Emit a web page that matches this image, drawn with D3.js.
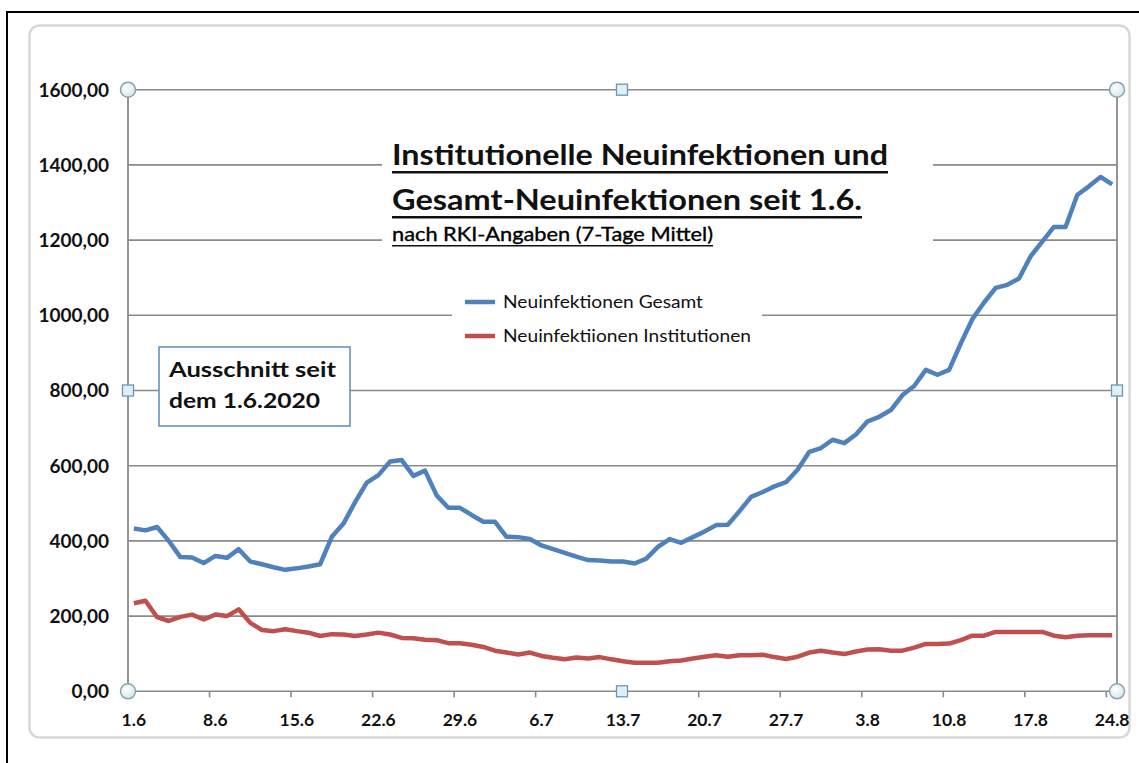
<!DOCTYPE html>
<html><head><meta charset="utf-8">
<script src="https://cdn.jsdelivr.net/npm/d3@7"></script>
<style>
html,body{margin:0;padding:0;background:#fff;}
svg{display:block;font-family:Lato,"Open Sans",sans-serif;}
</style></head>
<body>
<svg id="chart" width="1139" height="763"></svg>
<script>
// ---- data ----
const startDate = "2020-06-01", endDate = "2020-08-24";
const tickLabels = ["1.6","8.6","15.6","22.6","29.6","6.7","13.7","20.7","27.7","3.8","10.8","17.8","24.8"];
const yTicks = [0,200,400,600,800,1000,1200,1400,1600];
const seriesNames = ["Neuinfektionen Gesamt","Neuinfektiionen Institutionen"];
const gesamt = [433,428,437,400,357,356,341,360,355,378,345,338,330,323,327,332,338,411,446,503,555,575,611,615,573,587,521,488,488,469,451,451,411,410,405,388,378,368,358,349,348,345,345,340,353,384,405,395,410,425,442,443,479,517,530,545,556,590,637,647,669,660,683,718,730,748,788,812,855,842,855,925,990,1034,1073,1081,1098,1157,1196,1235,1235,1320,1343,1368,1348];
const institutionen = [234,241,197,187,198,204,191,204,200,218,182,163,160,165,160,156,147,152,151,147,151,156,151,142,141,137,136,128,128,124,118,108,103,98,103,94,89,85,90,87,91,85,80,76,76,76,80,82,87,92,96,92,96,96,97,91,86,92,103,108,103,99,106,111,112,108,108,116,126,126,127,136,148,148,158,158,158,158,158,148,144,148,149,149,149];

const parse = d3.timeParse("%Y-%m-%d");
const fmt = d3.timeFormat("%-d.%-m");
const categories = d3.timeDay.range(parse(startDate), d3.timeDay.offset(parse(endDate),1)).map(fmt);

const svg = d3.select("#chart");
const L = 128, R = 1118, T = 89.7, B = 691.3;
const x = d3.scaleBand().domain(categories).range([L, R]).padding(0);
const y = d3.scaleLinear().domain([0,1600]).range([B, T]);
const cx = c => x(c) + x.bandwidth()/2;

// outer frame
svg.append("line").attr("x1",7).attr("x2",7).attr("y1",12).attr("y2",763).attr("stroke","#000").attr("stroke-width",2);
svg.append("line").attr("x1",6).attr("x2",1139).attr("y1",12).attr("y2",12).attr("stroke","#000").attr("stroke-width",2);
// chart area
svg.append("rect").attr("x",29.5).attr("y",25.5).attr("width",1100).attr("height",712).attr("rx",10)
  .attr("fill","#fff").attr("stroke","#d8d8d8").attr("stroke-width",2.5);

// gridlines
svg.append("g").selectAll("line").data(yTicks).join("line")
  .attr("x1",L).attr("x2",R-1).attr("y1",d=>y(d)).attr("y2",d=>y(d))
  .attr("stroke","#8a8a8a").attr("stroke-width",1.6);

// y axis labels
svg.append("g").selectAll("text").data(yTicks).join("text")
  .attr("x",109).attr("y",d=>y(d)).attr("dy","0.36em").attr("text-anchor","end")
  .attr("font-weight","bold").attr("font-size",19).attr("fill","#111")
  .text(d=>d3.format(".2f")(d).replace(".",","));

// axes lines
svg.append("line").attr("x1",L).attr("x2",L).attr("y1",T).attr("y2",B).attr("stroke","#8a8a8a").attr("stroke-width",1.8);
svg.append("line").attr("x1",R-1).attr("x2",R-1).attr("y1",T).attr("y2",B).attr("stroke","#8a8a8a").attr("stroke-width",1.8);

// x ticks & labels
const tickCats = categories.filter(c => tickLabels.includes(c));
svg.append("g").selectAll("line").data(tickCats).join("line")
  .attr("x1",d=>x(d)).attr("x2",d=>x(d)).attr("y1",B).attr("y2",B+6)
  .attr("stroke","#8a8a8a").attr("stroke-width",1.6);
svg.append("g").selectAll("text").data(tickCats).join("text")
  .attr("x",d=>cx(d)).attr("y",726).attr("text-anchor","middle")
  .attr("font-weight","bold").attr("font-size",17.5).attr("fill","#111")
  .text(d=>d);

// title block (white background)
svg.append("rect").attr("x",382).attr("y",132).attr("width",551).attr("height",122).attr("fill","#fff");
svg.append("rect").attr("x",452).attr("y",282).attr("width",310).attr("height",70).attr("fill","#fff");
svg.append("text").attr("x",392).attr("y",165).attr("font-weight","bold").attr("font-size",28)
  .attr("fill","#111").attr("textLength",496).attr("lengthAdjust","spacingAndGlyphs").text("Institutionelle Neuinfektionen und");
svg.append("text").attr("x",392).attr("y",210).attr("font-weight","bold").attr("font-size",28)
  .attr("fill","#111").attr("textLength",470).attr("lengthAdjust","spacingAndGlyphs").text("Gesamt-Neuinfektionen seit 1.6.");
svg.append("rect").attr("x",392).attr("y",171).attr("width",496).attr("height",2.5).attr("fill","#111");
svg.append("rect").attr("x",392).attr("y",216).attr("width",470).attr("height",2.5).attr("fill","#111");
svg.append("text").attr("x",392).attr("y",241).attr("font-size",19).attr("fill","#000")
  .attr("stroke","#000").attr("stroke-width",0.35)
  .attr("textLength",321).attr("lengthAdjust","spacingAndGlyphs").text("nach RKI-Angaben (7-Tage Mittel)");
svg.append("rect").attr("x",392).attr("y",245).attr("width",321).attr("height",1.5).attr("fill","#111");

// legend
const colors = ["#4f81bd","#c0504d"];
const legY = [302,336], legW = [200,248];
seriesNames.forEach((n,i)=>{
  svg.append("line").attr("x1",465).attr("x2",495).attr("y1",legY[i]).attr("y2",legY[i])
    .attr("stroke",colors[i]).attr("stroke-width",4.5);
  svg.append("text").attr("x",503).attr("y",legY[i]).attr("dy","0.36em").attr("font-size",16.5).attr("fill","#111")
    .attr("textLength",legW[i]).attr("lengthAdjust","spacingAndGlyphs").text(n);
});

// text box
svg.append("rect").attr("x",159).attr("y",347).attr("width",191).attr("height",79)
  .attr("fill","#fff").attr("stroke","#5f8ab8").attr("stroke-width",1.5);
svg.append("text").attr("x",169).attr("y",377).attr("font-weight","bold").attr("font-size",21).attr("fill","#111")
  .attr("textLength",167).attr("lengthAdjust","spacingAndGlyphs").text("Ausschnitt seit");
svg.append("text").attr("x",169).attr("y",408).attr("font-weight","bold").attr("font-size",21).attr("fill","#111")
  .attr("textLength",151).attr("lengthAdjust","spacingAndGlyphs").text("dem 1.6.2020");

// lines
const line = d3.line().x((d,i)=>cx(categories[i])).y(d=>y(d));
[gesamt, institutionen].forEach((s,i)=>{
  svg.append("path").datum(s).attr("d",line).attr("fill","none")
    .attr("stroke",colors[i]).attr("stroke-width",4.5).attr("stroke-linejoin","round");
});

// selection handles
const defs = svg.append("defs");
const g = defs.append("radialGradient").attr("id","hg").attr("cx","40%").attr("cy","35%").attr("r","70%");
g.append("stop").attr("offset","0%").attr("stop-color","#ffffff");
g.append("stop").attr("offset","100%").attr("stop-color","#cfe6ee");
const midX = (L+R)/2 - 1, midY = y(800);
[[L,T],[R-1,T],[L,B],[R-1,B]].forEach(p=>{
  svg.append("circle").attr("cx",p[0]).attr("cy",p[1]).attr("r",7.5)
    .attr("fill","url(#hg)").attr("stroke","#8ba3ad").attr("stroke-width",1.5);
});
[[midX,T],[midX,B],[L,midY],[R-1,midY]].forEach(p=>{
  svg.append("rect").attr("x",p[0]-5.5).attr("y",p[1]-5.5).attr("width",11).attr("height",11)
    .attr("fill","#def0f8").attr("stroke","#6f95b3").attr("stroke-width",1.3);
});
</script>
</body></html>
